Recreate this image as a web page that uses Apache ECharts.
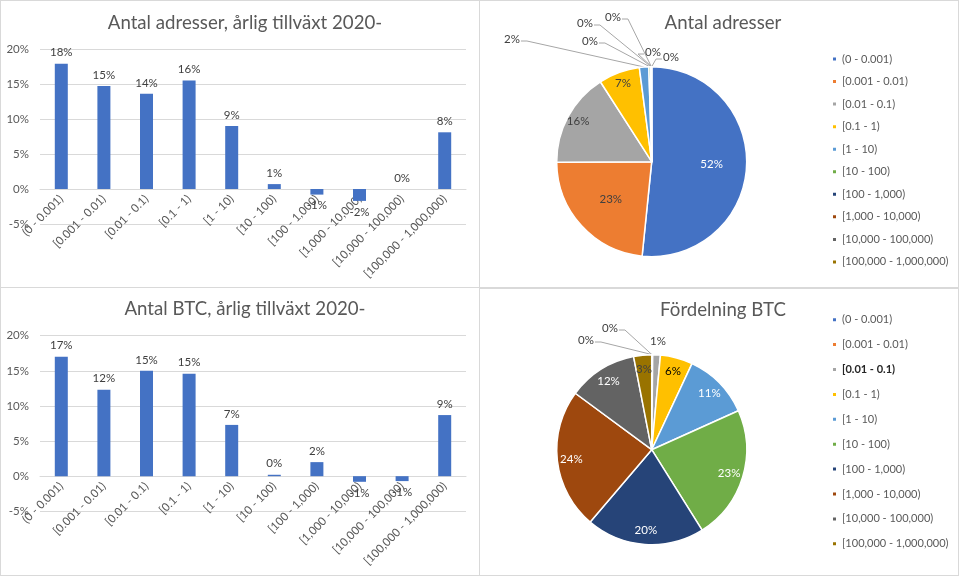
<!DOCTYPE html>
<html><head><meta charset="utf-8">
<script src="https://cdn.jsdelivr.net/npm/echarts@6/dist/echarts.min.js"></script>
<style>
html,body{margin:0;padding:0;background:#fff;}
#wrap{position:relative;width:959px;height:576px;overflow:hidden;}
.c{position:absolute;width:480px;height:288px;}
.b{position:absolute;box-sizing:border-box;border:1px solid #d9d9d9;pointer-events:none;}
</style></head><body>
<div id="wrap">
<div class="c" id="c1" style="left:0;top:0"></div>
<div class="c" id="c2" style="left:479px;top:0"></div>
<div class="c" id="c3" style="left:0;top:288px"></div>
<div class="c" id="c4" style="left:479px;top:288px"></div>
<div class="b" style="left:0;top:0;width:480px;height:288px"></div>
<div class="b" style="left:479px;top:0;width:480px;height:289px;border-width:1px 1px 2px 1px"></div>
<div class="b" style="left:0;top:287px;width:480px;height:289px"></div>
<div class="b" style="left:479px;top:288px;width:480px;height:288px"></div>
</div>
<script>
// ---- data ----
const categories = ['(0 - 0.001)', '[0.001 - 0.01)', '[0.01 - 0.1)', '[0.1 - 1)', '[1 - 10)', '[10 - 100)', '[100 - 1,000)', '[1,000 - 10,000)', '[10,000 - 100,000)', '[100,000 - 1,000,000)'];
const addrGrowth = [0.179, 0.147, 0.136, 0.155, 0.090, 0.007, -0.008, -0.017, 0.000, 0.081];
const btcGrowth = [0.170, 0.123, 0.150, 0.146, 0.073, 0.002, 0.020, -0.008, -0.007, 0.087];
const addrShare = [51.6, 23.3, 16.0, 7.0, 1.6, 0.3, 0.1, 0.05, 0.02, 0.01];
const btcShare = [0.1, 0.07, 1.3, 5.5, 11.3, 22.8, 20.1, 23.9, 11.8, 3.06];
const yMin = -0.05, yMax = 0.20, yStep = 0.05;
const titles = ['Antal adresser, årlig tillväxt 2020-', 'Antal adresser', 'Antal BTC, årlig tillväxt 2020-', 'Fördelning BTC'];

// ---- styles ----
const FONT = 'Lato, "Open Sans", sans-serif';
const palette = ['#4472C4', '#ED7D31', '#A5A5A5', '#FFC000', '#5B9BD5', '#70AD47', '#264478', '#9E480E', '#636363', '#997300'];
const TXT = '#595959', LBL = '#404040', GRID = '#d9d9d9';
const SMALL = 11.5;

function barOption(title, vals, gridTop, gridBottom, titleTop) {
  return {
    animation: false,
    title: { text: title, left: 240, top: titleTop, textAlign: 'center',
      textStyle: { fontFamily: FONT, fontSize: 18.67, fontWeight: 'normal', color: TXT } },
    grid: { left: 40, right: 14, top: gridTop, bottom: gridBottom, containLabel: false, outerBoundsMode: 'none' },
    xAxis: { type: 'category', data: categories,
      axisLine: { onZero: true, lineStyle: { color: GRID } }, axisTick: { show: false },
      axisLabel: { interval: 0, rotate: 45, color: TXT, fontSize: SMALL, fontFamily: FONT, margin: -27 } },
    yAxis: { type: 'value', min: yMin, max: yMax, interval: yStep,
      axisLine: { show: false }, axisTick: { show: false },
      splitLine: { lineStyle: { color: GRID } },
      axisLabel: { formatter: v => Math.round(v * 100) + '%', color: TXT, fontSize: SMALL, fontFamily: FONT, margin: 11 } },
    series: [{
      type: 'bar', barWidth: 13, itemStyle: { color: '#4472C4' },
      data: vals.map(v => ({ value: v, label: { position: v < 0 ? 'bottom' : 'top' } })),
      label: { show: true, formatter: p => Math.round(p.value * 100) + '%', color: LBL, fontSize: SMALL, fontFamily: FONT, distance: 5 }
    }]
  };
}

function pieOption(title, vals, opt) {
  const R = 95, C = [172.7, 161.7];
  const total = vals.reduce((a, b) => a + b, 0);
  let cum = 0;
  const mids = vals.map(v => { const m = (cum + v / 2) / total * 2 * Math.PI; cum += v; return m; });
  const offs = mids.map((mid, i) => {
    const k = (opt.factors[i] - 0.5) * R;
    return [k * Math.sin(mid), -k * Math.cos(mid)];
  });
  function layout(p) {
    const i = p.dataIndex;
    if (opt.inside[i]) return { dx: offs[i][0], dy: offs[i][1] };
    const pos = opt.outPos[i];
    if (!pos) return {};
    const s = [C[0] + R * Math.sin(mids[i]), C[1] - R * Math.cos(mids[i])];
    const hw = p.labelRect.width / 2;
    const left = pos[0] < s[0];
    const end = [left ? pos[0] + hw + 1 : pos[0] - hw - 1, pos[1] + 2];
    const bend = [left ? end[0] + 6 : end[0] - 6, end[1]];
    return { x: pos[0], y: pos[1], align: 'center', verticalAlign: 'middle',
      labelLinePoints: [s, bend, end] };
  }
  return {
    animation: false,
    title: { text: title, left: 239, top: opt.titleTop, textAlign: 'center',
      textStyle: { fontFamily: FONT, fontSize: 18.67, fontWeight: 'normal', color: TXT } },
    legend: {
      orient: 'vertical', left: 352, top: opt.legendTop, itemGap: opt.legendGap, padding: 0,
      itemWidth: 5, itemHeight: 5, icon: 'rect',
      textStyle: { fontFamily: FONT, fontSize: 11, color: TXT, lineHeight: 12 },
      data: categories.map((c, i) => i === opt.boldIdx ? { name: c, textStyle: { fontWeight: 'bold', color: '#262626' } } : c)
    },
    series: [{
      type: 'pie', radius: R, center: C, startAngle: 90, clockwise: true,
      avoidLabelOverlap: false,
      itemStyle: { borderColor: '#fff', borderWidth: 1.5 },
      labelLine: { length: 10, length2: 10, lineStyle: { color: '#a6a6a6', width: 1 } },
      label: { fontFamily: FONT, fontSize: SMALL, color: LBL, formatter: p => Math.round(p.percent) + '%' },
      labelLayout: layout,
      data: vals.map((v, i) => ({
        name: categories[i], value: v,
        itemStyle: { color: palette[i] },
        label: { position: opt.inside[i] ? 'inside' : 'outside', color: opt.inside[i] ? opt.colors[i] : LBL },
        labelLine: { show: !opt.inside[i] && opt.line[i] }
      }))
    }]
  };
}

echarts.init(document.getElementById('c1')).setOption(barOption(titles[0], addrGrowth, 49, 64, 8));
echarts.init(document.getElementById('c3')).setOption(barOption(titles[2], btcGrowth, 47.7, 64.7, 6));
echarts.init(document.getElementById('c2')).setOption(pieOption(titles[1], addrShare, {
  titleTop: 8, legendTop: 53, legendGap: 10.55, boldIdx: -1,
  inside: [1, 1, 1, 1, 0, 0, 0, 0, 0, 0],
  line: [0, 0, 0, 0, 1, 1, 1, 1, 1, 1],
  factors: [0.6, 0.55, 0.85, 0.85, 1, 1, 1, 1, 1, 1],
  colors: ['#fff', LBL, LBL, LBL, LBL, LBL, LBL, LBL, LBL, LBL],
  outPos: [null, null, null, null, [33, 39], [111, 41], [106, 23], [134, 17], [174, 52], [192, 57]]
}));
echarts.init(document.getElementById('c4')).setOption(pieOption(titles[3], btcShare, {
  titleTop: 7, legendTop: 25.7, legendGap: 12.9, boldIdx: 2,
  inside: [0, 0, 0, 1, 1, 1, 1, 1, 1, 1],
  line: [1, 1, 0, 0, 0, 0, 0, 0, 0, 0],
  factors: [1, 1, 1, 0.82, 0.82, 0.82, 0.82, 0.82, 0.82, 0.82],
  colors: [LBL, LBL, LBL, '#000', '#fff', '#fff', '#fff', '#fff', '#fff', LBL],
  outPos: [[131, 40], [107, 52], [179, 53], null, null, null, null, null, null, null]
}));
</script>
</body></html>
